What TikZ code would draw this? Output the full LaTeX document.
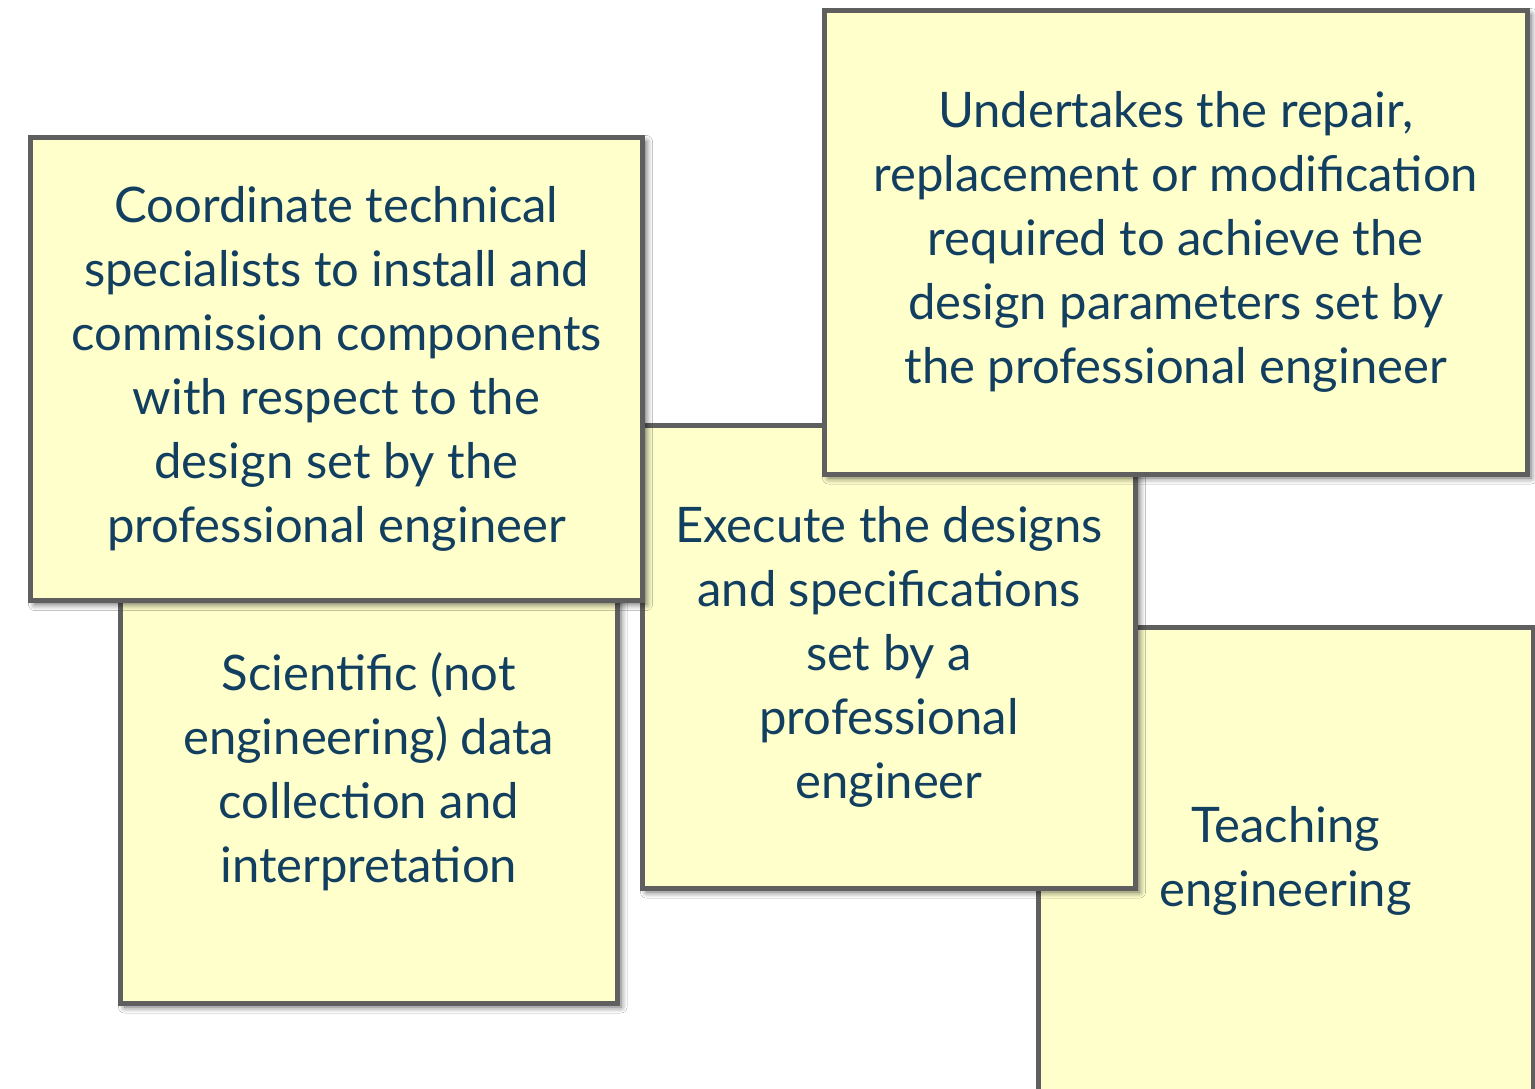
\documentclass[tikz,border=0pt]{standalone}
\usepackage{fontspec}
\setmainfont{Lato}
\usetikzlibrary{shadows.blur}
\definecolor{notefill}{HTML}{FFFFCC}
\definecolor{noteline}{HTML}{5F5F5F}
\definecolor{notetext}{HTML}{123F60}
\tikzset{
  notetxt/.style={text=notetext, align=center, inner sep=0pt,
    font=\fontsize{49}{64}\selectfont},
  note/.style={rectangle, draw=noteline, line width=5pt, fill=notefill, notetxt,
    blur shadow={shadow xshift=4pt, shadow yshift=-4pt, shadow blur steps=6, shadow blur radius=6pt, shadow opacity=60}},
}
\begin{document}
\begin{tikzpicture}[x=1pt,y=-1pt]
\useasboundingbox[fill=white] (0,0) rectangle (1535,1088);
\node[note, minimum width=494.5pt, minimum height=475pt] (teach) at (1285.75,865) {};
\node[notetxt] (teachtext) at (1285.75,861) {Teaching\\engineering};
\node[note, minimum width=496.5pt, minimum height=463pt] (sci) at (368.75,771.5) {Scientific (not\\engineering) data\\collection and\\interpretation};
\node[note, minimum width=493pt, minimum height=463pt] (exec) at (889,656.5) {Execute the designs\\and specifications\\set by a\\professional\\engineer};
\node[note, minimum width=612pt, minimum height=463pt] (coord) at (336.5,369) {Coordinate technical\\specialists to install and\\commission components\\with respect to the\\design set by the\\professional engineer};
\node[note, minimum width=702.5pt, minimum height=463.5pt] (under) at (1175.75,242.25) {Undertakes the repair,\\replacement or modification\\required to achieve the\\design parameters set by\\the professional engineer};
\end{tikzpicture}
\end{document}
